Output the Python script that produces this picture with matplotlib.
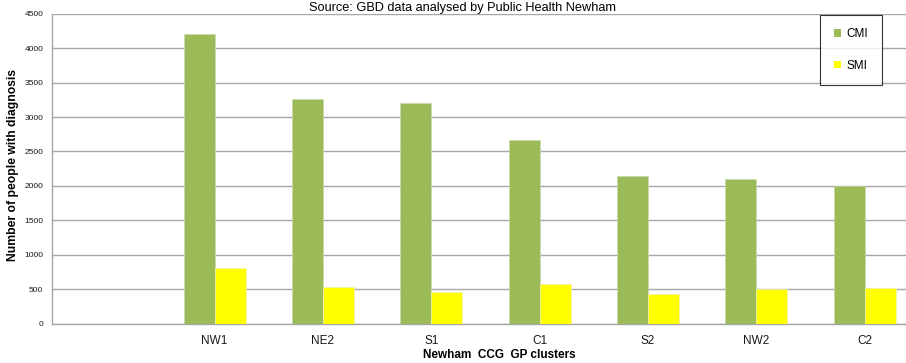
import matplotlib
matplotlib.use("Agg")
import matplotlib.pyplot as plt
import numpy as np
from matplotlib.patches import Patch

plt.rcParams['font.family'] = ['Liberation Sans', 'DejaVu Sans']

# GP clusters (first slot is an empty category)
clusters = ["", "NW1", "NE2", "S1", "C1", "S2", "NW2", "C2"]
cmi = [np.nan, 4210, 3265, 3200, 2670, 2150, 2095, 2005]
smi = [np.nan, 810, 525, 465, 575, 430, 500, 515]

title = "Source: GBD data analysed by Public Health Newham"
xlabel = "Newham  CCG  GP clusters"
ylabel = "Number of people with diagnosis"

GREEN = "#9BBB59"
YELLOW = "#FFFF00"
GRID = "#A6A6A6"

W, H = 906, 363
fig = plt.figure(figsize=(W / 100, H / 100), dpi=100)
left, right, top, bottom = 52, 919, 13.9, 323.5
ax = fig.add_axes([left / W, 1 - bottom / H, (right - left) / W, (bottom - top) / H])

x = np.arange(len(clusters))
bw = 0.286
ax.bar(x - bw / 2, cmi, width=bw, color=GREEN, edgecolor="#C9D9A8", linewidth=0.5, zorder=3)
ax.bar(x + bw / 2, smi, width=bw, color=YELLOW, edgecolor="#F2F2B0", linewidth=0.5, zorder=3)

ax.set_xlim(-0.5, len(clusters) - 0.5)
ax.set_ylim(0, 4500)
ax.set_yticks(np.arange(0, 4501, 500))
ax.set_xticks(x)
ax.set_xticklabels(clusters, fontsize=8.5, color="#1a1a1a")
ax.tick_params(axis="y", length=0, pad=6.3, labelsize=6, labelcolor="#1a1a1a")
ax.tick_params(axis="x", length=0, pad=8)

ax.grid(axis="y", color=GRID, linewidth=1.0, zorder=0)
ax.set_axisbelow(True)
for s in ["top", "right"]:
    ax.spines[s].set_visible(False)
for s in ["left", "bottom"]:
    ax.spines[s].set_color(GRID)
    ax.spines[s].set_linewidth(1.0)

fig.text(499.5 / W, 1 - 355 / H, xlabel, ha="center", va="center",
         fontsize=8.5, fontweight="bold")
fig.text(13.5 / W, 1 - 165 / H, ylabel, ha="center", va="center",
         rotation=90, fontsize=8.7, fontweight="bold")
fig.text(462 / W, 1 - 10.5 / H, title, ha="center", va="baseline", fontsize=9.2)

handles = [Patch(facecolor=GREEN, edgecolor="none", label="CMI"),
           Patch(facecolor=YELLOW, edgecolor="none", label="SMI")]
leg = fig.legend(handles=handles, loc="upper left",
                 bbox_to_anchor=(820 / W, 1 - 14.7 / H),
                 frameon=True, fancybox=False, edgecolor="black",
                 fontsize=8.5, handlelength=0.6, handleheight=0.6,
                 handletextpad=0.5, labelspacing=1.65, borderpad=1.15,
                 borderaxespad=0)
leg.get_frame().set_linewidth(0.8)

fig.savefig("out.png", dpi=100)
